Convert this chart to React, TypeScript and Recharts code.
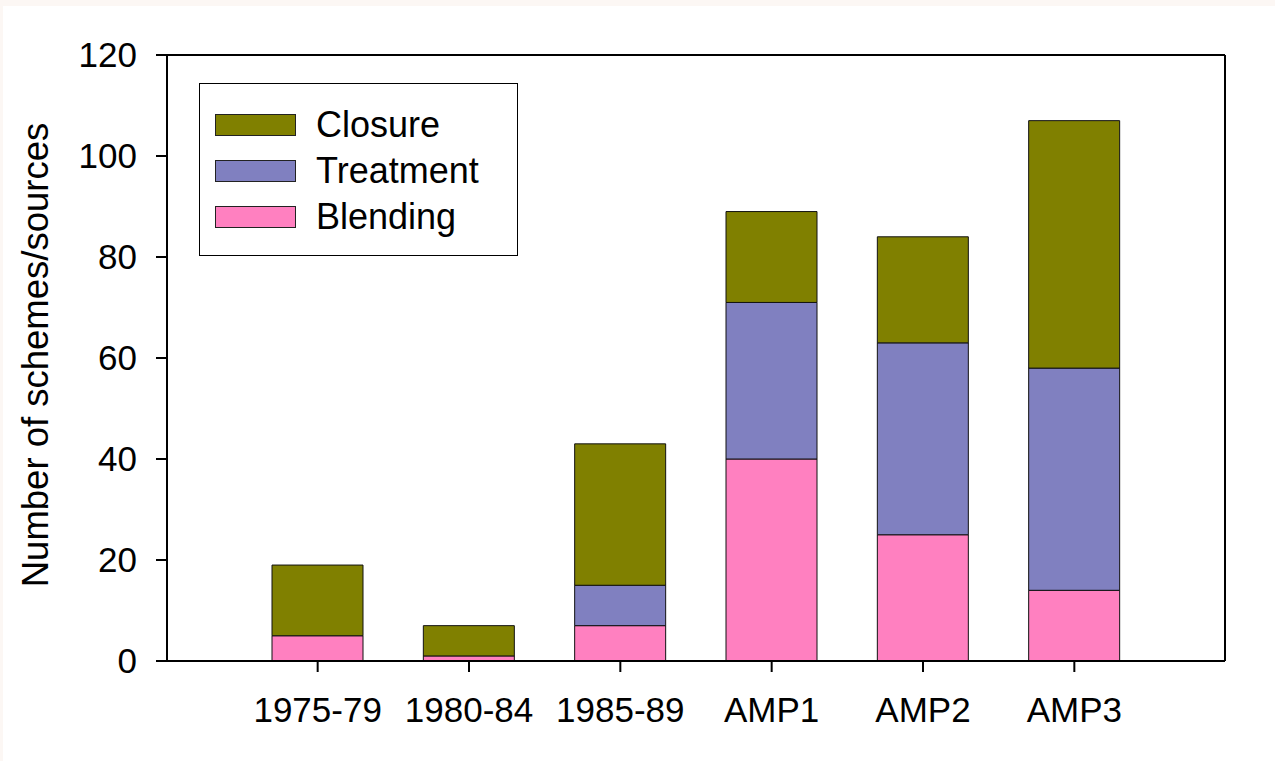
import { BarChart, Bar, XAxis, YAxis, Legend, ReferenceLine } from "recharts";

const periods = ["1975-79", "1980-84", "1985-89", "AMP1", "AMP2", "AMP3"];
const blending = [5, 1, 7, 40, 25, 14];
const treatment = [0, 0, 8, 31, 38, 44];
const closure = [14, 6, 28, 18, 21, 49];
const yTicks = [0, 20, 40, 60, 80, 100, 120];

const series = [
  { key: "blending", name: "Blending", color: "#FF80C0" },
  { key: "treatment", name: "Treatment", color: "#8080C0" },
  { key: "closure", name: "Closure", color: "#808000" },
];

const data = periods.map((period, i) => ({
  period,
  blending: blending[i],
  treatment: treatment[i],
  closure: closure[i],
}));

const FONT = "'Liberation Sans', Arial, sans-serif";
const TICK_FS = 35;

function LegendBox() {
  // legend lists the top of the stack first
  return (
    <div
      style={{
        width: 319,
        height: 173,
        border: "1px solid #000",
        boxSizing: "border-box",
        background: "#fff",
        paddingTop: 18,
        fontFamily: FONT,
      }}
    >
      {[...series].reverse().map((s) => (
        <div key={s.key} style={{ display: "flex", alignItems: "center", height: 46 }}>
          <div
            style={{
              marginLeft: 15,
              width: 81,
              height: 22,
              background: s.color,
              border: "1px solid #222",
              boxSizing: "border-box",
            }}
          />
          <span style={{ marginLeft: 20, fontSize: 36, color: "#000", lineHeight: 1 }}>{s.name}</span>
        </div>
      ))}
    </div>
  );
}

function YLabel() {
  return (
    <text
      x={35}
      y={355}
      transform="rotate(-90 35 355)"
      textAnchor="middle"
      dominantBaseline="central"
      fontSize={36.5}
      fontFamily={FONT}
      fill="#000"
    >
      Number of schemes/sources
    </text>
  );
}

export default function App() {
  return (
    <div style={{ position: "absolute", left: 0, top: 0, width: 1275, height: 761, background: "#fcf7f4" }}>
      <div style={{ position: "absolute", left: 3, top: 6, width: 1272, height: 755, background: "#fff" }} />
      <BarChart
        width={1275}
        height={761}
        data={data}
        margin={{ top: 55, right: 49, left: 107, bottom: 40 }}
        style={{ fontFamily: FONT, position: "absolute", left: 0, top: 0 }}
      >
        <XAxis
          dataKey="period"
          padding={{ left: 75, right: 75 }}
          height={60}
          axisLine={{ stroke: "#000", strokeWidth: 2 }}
          tickLine={{ stroke: "#000", strokeWidth: 2 }}
          tickSize={11}
          tickMargin={25}
          tick={{ fill: "#000", fontSize: TICK_FS, fontFamily: FONT }}
          interval={0}
        />
        <YAxis
          domain={[0, 120]}
          ticks={yTicks}
          width={60}
          axisLine={{ stroke: "#000", strokeWidth: 2 }}
          tickLine={{ stroke: "#000", strokeWidth: 2 }}
          tickSize={11}
          tickMargin={19}
          tick={{ fill: "#000", fontSize: TICK_FS, fontFamily: FONT }}
          label={{ content: () => <YLabel /> }}
        />
        <YAxis
          yAxisId="right"
          orientation="right"
          domain={[0, 120]}
          width={1}
          tick={false}
          tickLine={false}
          axisLine={{ stroke: "#000", strokeWidth: 2 }}
        />
        <ReferenceLine y={120} stroke="#000" strokeWidth={2} />
        <Legend
          layout="vertical"
          align="center"
          verticalAlign="middle"
          wrapperStyle={{ left: 199, top: 83, width: 319, height: 173 }}
          content={() => <LegendBox />}
        />
        {series.map((s) => (
          <Bar
            key={s.key}
            dataKey={s.key}
            name={s.name}
            stackId="a"
            fill={s.color}
            stroke="#111"
            strokeWidth={1}
            barSize={91}
            isAnimationActive={false}
          />
        ))}
      </BarChart>
    </div>
  );
}
